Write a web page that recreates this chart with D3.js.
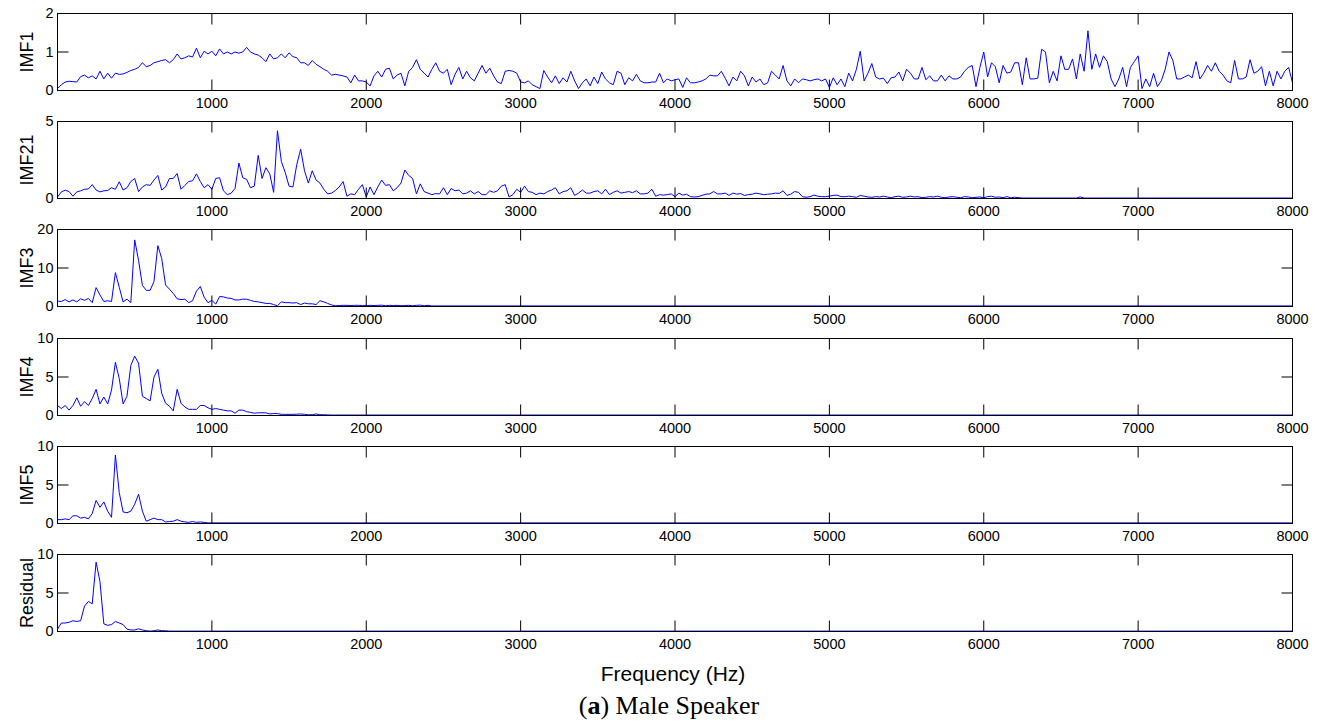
<!DOCTYPE html>
<html>
<head>
<meta charset="utf-8">
<script src="https://cdn.jsdelivr.net/npm/d3@7"></script>
<style>
  body { margin: 0; background: #fff; }
  svg text { font-family: "Liberation Sans", Arial, sans-serif; fill: #000; }
</style>
</head>
<body>
<div id="chart"></div>
<script>
// spectrum samples every 25 Hz, starting at 0 Hz
const freqStep = 25;
const xTicks = [1000, 2000, 3000, 4000, 5000, 6000, 7000, 8000];
const panelNames = ["IMF1", "IMF21", "IMF3", "IMF4", "IMF5", "Residual"];
const yMaxes = [2, 5, 20, 10, 10, 10];
const yTickValues = [[0, 1, 2], [0, 5], [0, 10, 20], [0, 5, 10], [0, 5, 10], [0, 5, 10]];

const imf1Values = [
  0.05,0.15,0.22,0.24,0.23,0.22,0.36,0.4,0.33,0.38,0.3,0.5,0.3,0.45,0.32,0.45,0.42,0.43,0.47,0.52,
  0.55,0.6,0.72,0.62,0.65,0.72,0.75,0.78,0.8,0.72,0.8,0.95,0.82,0.85,0.9,0.87,1.1,0.85,1.02,0.95,
  1.02,0.9,1.08,0.95,1.0,0.95,1.0,0.97,1.0,1.12,1.0,0.95,0.92,0.85,0.75,0.95,0.82,0.85,0.95,0.85,
  0.98,0.88,0.85,0.72,0.72,0.65,0.78,0.68,0.62,0.55,0.5,0.4,0.42,0.4,0.38,0.35,0.2,0.4,0.25,0.25,
  0.22,0.12,0.38,0.5,0.35,0.55,0.58,0.3,0.4,0.45,0.12,0.5,0.6,0.8,0.55,0.45,0.35,0.55,0.72,0.5,
  0.45,0.55,0.15,0.42,0.6,0.3,0.5,0.33,0.25,0.45,0.65,0.45,0.58,0.38,0.22,0.18,0.5,0.52,0.5,0.45,
  0.22,0.2,0.25,0.15,0.1,0.05,0.52,0.35,0.2,0.38,0.18,0.33,0.22,0.5,0.25,0.05,0.2,0.3,0.12,0.35,
  0.18,0.48,0.3,0.2,0.15,0.5,0.45,0.15,0.33,0.25,0.42,0.25,0.2,0.2,0.22,0.22,0.45,0.2,0.3,0.25,
  0.28,0.3,0.08,0.33,0.2,0.2,0.22,0.25,0.3,0.4,0.38,0.38,0.5,0.32,0.12,0.35,0.25,0.5,0.38,0.12,
  0.35,0.22,0.3,0.15,0.2,0.5,0.4,0.3,0.65,0.25,0.12,0.3,0.2,0.3,0.28,0.25,0.28,0.3,0.25,0.3,
  0.08,0.33,0.15,0.3,0.1,0.45,0.25,0.55,1.02,0.25,0.45,0.7,0.35,0.3,0.32,0.18,0.33,0.35,0.48,0.25,
  0.55,0.45,0.3,0.3,0.6,0.28,0.38,0.25,0.25,0.4,0.25,0.38,0.3,0.3,0.35,0.5,0.6,0.65,0.1,0.6,
  1.0,0.35,0.72,0.62,0.2,0.65,0.45,0.48,0.72,0.72,0.15,0.85,0.3,0.3,0.32,1.07,1.0,0.2,0.5,0.25,
  0.9,0.55,0.55,0.82,0.3,0.95,0.5,1.55,0.55,0.95,0.6,0.9,0.75,0.3,0.1,0.3,0.6,0.1,0.6,0.75,
  0.9,0.05,0.3,0.1,0.45,0.1,0.25,0.55,1.0,0.78,0.3,0.3,0.35,0.4,0.33,0.75,0.3,0.45,0.65,0.5,
  0.72,0.5,0.4,0.25,0.2,0.78,0.3,0.3,0.35,0.8,0.45,0.5,0.62,0.12,0.5,0.12,0.5,0.3,0.5,0.6,0.2
];
const imf1Tail = [];

const imf21Values = [
  0.1,0.43,0.54,0.45,0.15,0.43,0.5,0.6,0.62,0.9,0.55,0.43,0.5,0.52,0.7,0.6,1.09,0.55,0.7,1.1,
  1.3,0.45,0.75,0.9,0.85,1.2,1.5,0.55,0.75,1.3,1.3,1.62,0.6,0.85,1.1,1.15,1.6,1.1,0.7,0.9,
  0.6,1.3,1.35,0.5,0.25,0.35,0.65,2.3,1.35,1.25,0.7,0.8,2.8,1.3,2.0,1.6,0.4,4.4,2.4,1.7,
  0.8,0.75,2.2,3.2,1.8,1.0,1.8,1.2,1.0,0.6,0.3,0.35,0.52,0.75,1.1,0.15,0.3,0.25,0.6,0.9,
  0.1,0.75,0.25,0.75,1.2,0.85,0.9,0.5,0.7,1.0,1.85,1.5,1.3,0.3,0.95,0.45,0.35,0.25,0.32,0.3,
  0.7,0.25,0.65,0.5,0.55,0.3,0.35,0.5,0.3,0.45,0.25,0.25,0.5,0.4,0.5,0.8,0.9,0.1,0.25,0.6,
  0.4,0.8,0.45,0.4,0.25,0.35,0.3,0.45,0.55,0.7,0.3,0.45,0.5,0.7,0.2,0.35,0.55,0.35,0.35,0.45,
  0.5,0.3,0.6,0.25,0.4,0.5,0.35,0.4,0.45,0.38,0.5,0.3,0.3,0.35,0.6,0.15,0.25,0.22,0.25,0.3,
  0.12,0.35,0.22,0.28,0.12,0.1,0.12,0.2,0.28,0.3,0.45,0.3,0.3,0.35,0.2,0.35,0.28,0.32,0.2,0.25,
  0.28,0.35,0.3,0.25,0.28,0.3,0.35,0.33,0.5,0.2,0.28,0.45,0.4,0.12,0.08,0.12,0.22,0.15,0.12,0.12,
  0.15,0.2,0.22,0.12,0.12,0.15,0.12,0.08,0.2,0.15,0.1,0.08,0.12,0.1,0.15,0.1,0.05,0.12,0.15,0.08,
  0.1,0.15,0.1,0.12,0.05,0.08,0.12,0.1,0.15,0.08,0.05,0.1,0.12,0.08,0.05,0.12,0.1,0.05,0.08,0.1,
  0.05,0.12,0.15,0.08,0.1,0.05,0.12,0.05,0.08
];
const imf21Tail = [[6250, 0.03], [6600, 0.03], [6625, 0.1], [6650, 0.03], [8000, 0.03]];

const imf3Values = [
  1.4,1.3,1.8,1.2,1.7,1.2,2.0,1.6,2.1,1.0,4.9,3.0,1.3,1.5,1.3,8.8,5.0,1.2,1.9,1.0,
  17.3,12,5.5,4.2,4.2,6.5,15.8,12.5,5.6,4.5,3.4,2.0,1.8,1.9,1.0,1.5,4.0,5.2,2.4,1.0,
  1.6,0.6,2.6,2.5,2.2,2.1,1.7,1.7,1.9,1.9,1.6,1.3,1.2,1.0,0.8,0.8,0.5,0.2,1.2,1.0,
  1.0,0.9,1.0,0.5,0.9,0.7,0.7,0.5,1.5,1.2,0.8,0.4,0.2,0.25,0.3,0.3,0.25,0.3,0.3,0.25,
  0.2,0.3,0.25,0.3,0.35,0.2,0.3,0.25,0.3,0.2,0.25,0.3,0.2,0.3,0.35,0.2,0.3
];
const imf3Tail = [[2425, 0.15], [8000, 0.15]];

const imf4Values = [
  1.3,0.9,1.3,0.7,1.3,2.3,1.2,1.8,1.3,2.2,3.4,1.5,2.4,1.5,3.3,6.9,4.8,1.5,2.5,6.5,
  7.7,6.8,2.5,2.2,1.9,5.0,6.0,2.9,1.6,1.2,0.6,3.4,1.6,1.1,0.8,0.8,0.8,1.3,1.3,1.0,
  0.8,0.9,0.8,0.7,0.6,0.6,0.3,0.7,0.7,0.5,0.4,0.3,0.35,0.35,0.35,0.2,0.25,0.25,0.15,0.15,
  0.15,0.15,0.17,0.2,0.15,0.1,0.1,0.2,0.1,0.1,0.08
];
const imf4Tail = [[1775, 0.06], [8000, 0.06]];

const imf5Values = [
  0.5,0.5,0.6,0.5,1.0,1.0,0.7,0.8,0.6,1.3,3.0,2.1,2.8,1.6,0.8,8.9,4.0,1.5,1.4,1.6,
  2.5,3.8,1.6,0.3,0.5,0.7,0.5,0.5,0.2,0.25,0.3,0.5,0.3,0.2,0.15,0.25,0.15,0.2,0.15
];
const imf5Tail = [[975, 0.08], [8000, 0.08]];

const residualValues = [
  0.3,1.1,1.1,1.2,1.4,1.3,1.4,3.3,3.9,3.6,9.0,6.5,1.0,0.8,0.9,1.3,1.1,0.9,0.3,0.2,
  0.2,0.35,0.2,0.1,0.05,0.1,0.2,0.1,0.1
];
const residualTail = [[725, 0.05], [8000, 0.05]];

const seriesValues = [imf1Values, imf21Values, imf3Values, imf4Values, imf5Values, residualValues];
const seriesTails = [imf1Tail, imf21Tail, imf3Tail, imf4Tail, imf5Tail, residualTail];

const width = 1320, height = 722;
const margin = { left: 57, top: 13 };
const panelW = 1235, panelH = 77, panelGap = 108.2;
const tickLen = 11;
const plain = d => String(d);

const svg = d3.select("#chart").append("svg")
  .attr("width", width)
  .attr("height", height);

const x = d3.scaleLinear().domain([0, 8000]).range([0, panelW]);

panelNames.forEach((name, i) => {
  const top = margin.top + Math.round(i * panelGap);
  const y = d3.scaleLinear().domain([0, yMaxes[i]]).range([panelH, 0]);
  const g = svg.append("g")
    .attr("transform", "translate(" + (margin.left + 0.5) + "," + (top + 0.5) + ")");

  g.append("clipPath").attr("id", "clip" + i)
    .append("rect").attr("width", panelW).attr("height", panelH + 1);

  const points = seriesValues[i].map((v, k) => [k * freqStep, v]).concat(seriesTails[i]);

  g.append("path")
    .datum(points)
    .attr("clip-path", "url(#clip" + i + ")")
    .attr("fill", "none")
    .attr("stroke", "#0000ff")
    .attr("stroke-width", 1)
    .attr("d", d3.line().x(d => x(d[0])).y(d => y(d[1])));

  // axes, MATLAB style: ticks pointing inwards on all four sides
  g.append("g")
    .attr("transform", "translate(0," + panelH + ")")
    .call(d3.axisBottom(x).tickValues(xTicks).tickFormat(plain)
      .tickSizeInner(-tickLen).tickSizeOuter(0).tickPadding(7).offset(0));
  g.append("g")
    .call(d3.axisTop(x).tickValues(xTicks).tickSizeInner(-tickLen).tickSizeOuter(0).tickFormat("").offset(0));
  g.append("g")
    .call(d3.axisLeft(y).tickValues(yTickValues[i]).tickFormat(plain)
      .tickSizeInner(-tickLen).tickSizeOuter(0).tickPadding(4).offset(0));
  g.append("g")
    .attr("transform", "translate(" + panelW + ",0)")
    .call(d3.axisRight(y).tickValues(yTickValues[i]).tickSizeInner(-tickLen).tickSizeOuter(0).tickFormat("").offset(0));

  g.selectAll(".domain").remove();
  g.selectAll(".tick line").attr("stroke", "#000");
  g.selectAll(".tick text").attr("font-size", 14.5).attr("font-family", null);

  g.append("rect")
    .attr("width", panelW)
    .attr("height", panelH)
    .attr("fill", "none")
    .attr("stroke", "#000")
    .attr("stroke-width", 1);

  g.append("text")
    .attr("transform", "translate(" + (26 - margin.left) + "," + (panelH / 2) + ") rotate(-90)")
    .attr("text-anchor", "middle")
    .attr("dy", "0.35em")
    .attr("font-size", 18)
    .text(name);
});

svg.append("text")
  .attr("x", 673)
  .attr("y", 681)
  .attr("text-anchor", "middle")
  .attr("font-size", 21)
  .text("Frequency (Hz)");

const caption = svg.append("text")
  .attr("x", 669)
  .attr("y", 714)
  .attr("text-anchor", "middle")
  .attr("font-size", 26)
  .style("font-family", "'Liberation Serif', 'Times New Roman', serif");
caption.append("tspan").text("(");
caption.append("tspan").attr("font-weight", "bold").text("a");
caption.append("tspan").text(") Male Speaker");
</script>
</body>
</html>
